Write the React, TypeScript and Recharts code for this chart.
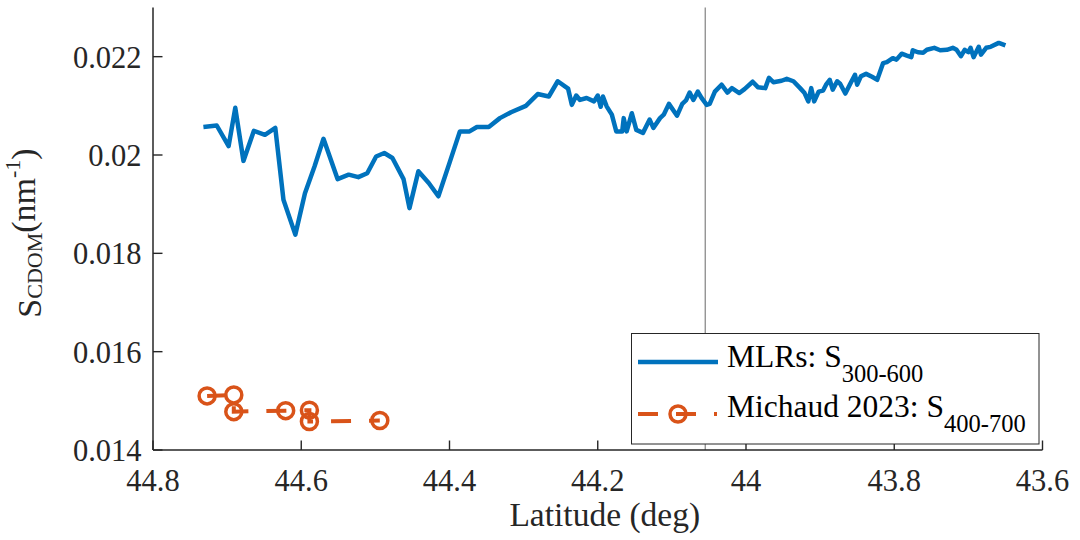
import React from "react";
import { LineChart, Line, XAxis, YAxis, ReferenceLine, Legend } from "recharts";

// ---------- data ----------
const mlrLat = [
  44.732, 44.714, 44.698, 44.689, 44.678, 44.664, 44.649, 44.635, 44.624, 44.608,
  44.595, 44.582, 44.570, 44.551, 44.536, 44.523, 44.511, 44.499, 44.488, 44.477,
  44.462, 44.454, 44.442, 44.428, 44.415, 44.400, 44.386, 44.373, 44.363, 44.347,
  44.332, 44.317, 44.297, 44.281, 44.266, 44.254, 44.240, 44.235, 44.229, 44.224,
  44.215, 44.205, 44.200, 44.196, 44.193, 44.188, 44.181, 44.175, 44.167, 44.165,
  44.161, 44.154, 44.148, 44.139, 44.130, 44.125, 44.116, 44.111, 44.104, 44.093,
  44.086, 44.081, 44.076, 44.071, 44.065, 44.060, 44.053, 44.049, 44.042, 44.033,
  44.025, 44.019, 44.009, 44.002, 43.991, 43.984, 43.974, 43.969, 43.963, 43.952,
  43.945, 43.936, 43.927, 43.921, 43.916, 43.912, 43.908, 43.902, 43.896, 43.892,
  43.887, 43.883, 43.877, 43.873, 43.866, 43.859, 43.853, 43.850, 43.845, 43.838,
  43.830, 43.823, 43.815, 43.810, 43.802, 43.797, 43.790, 43.783, 43.777, 43.775,
  43.768, 43.761, 43.756, 43.746, 43.738, 43.729, 43.721, 43.716, 43.710, 43.705,
  43.700, 43.697, 43.693, 43.686, 43.683, 43.676, 43.670, 43.659, 43.650,
];
const mlrS = [
  0.02057, 0.02060, 0.02018, 0.02096, 0.01988, 0.02049, 0.02041, 0.02055, 0.01909, 0.01838,
  0.01922, 0.01977, 0.02033, 0.01951, 0.01960, 0.01955, 0.01963, 0.01997, 0.02004, 0.01994,
  0.01951, 0.01892, 0.01967, 0.01943, 0.01916, 0.01984, 0.02048, 0.02048, 0.02057, 0.02057,
  0.02075, 0.02087, 0.02100, 0.02124, 0.02119, 0.02150, 0.02135, 0.02102, 0.02121, 0.02112,
  0.02116, 0.02109, 0.02121, 0.02098, 0.02119, 0.02099, 0.02082, 0.02048, 0.02048, 0.02075,
  0.02048, 0.02085, 0.02051, 0.02045, 0.02072, 0.02055, 0.02075, 0.02082, 0.02104, 0.02080,
  0.02104, 0.02111, 0.02127, 0.02112, 0.02129, 0.02116, 0.02102, 0.02104, 0.02129, 0.02143,
  0.02127, 0.02136, 0.02126, 0.02134, 0.02149, 0.02138, 0.02136, 0.02157, 0.02148, 0.02151,
  0.02155, 0.02150, 0.02136, 0.02126, 0.02109, 0.02136, 0.02109, 0.02129, 0.02131, 0.02143,
  0.02153, 0.02133, 0.02150, 0.02145, 0.02125, 0.02146, 0.02163, 0.02143, 0.02160, 0.02165,
  0.02159, 0.02153, 0.02187, 0.02189, 0.02197, 0.02194, 0.02206, 0.02202, 0.02199, 0.02213,
  0.02209, 0.02208, 0.02214, 0.02218, 0.02213, 0.02214, 0.02218, 0.02214, 0.02201, 0.02214,
  0.02209, 0.02218, 0.02199, 0.02220, 0.02204, 0.02218, 0.02220, 0.02228, 0.02223,
];
const michaudLat = [44.727, 44.691, 44.691, 44.621, 44.589, 44.589, 44.494];
const michaudS = [0.01510, 0.01512, 0.01478, 0.01480, 0.01481, 0.01458, 0.01460];

const xTicks = [44.8, 44.6, 44.4, 44.2, 44.0, 43.8, 43.6];
const yTicks = [0.014, 0.016, 0.018, 0.02, 0.022];
const xDomain = [43.6, 44.8];
const yDomain = [0.014, 0.023];
const markerLat = 44.055;

const seriesNames = ["MLRs: S", "Michaud 2023: S"];
const seriesSubs = ["300-600", "400-700"];

const mlrData = mlrLat.map((lat, i) => ({ lat, v: mlrS[i] }));
const michaudData = michaudLat.map((lat, i) => ({ lat, v: michaudS[i] }));

// ---------- style ----------
const FONT = "Liberation Serif, Times New Roman, serif";
const AX = "#262626";
const BLUE = "#0072BD";
const ORANGE = "#D95319";
const TICK_LEN = 9.5;
const TICK_FS = 30.5;

const fmtX = (v: number) => String(Number(v.toFixed(1)));
const fmtY = (v: number) => String(Number(v.toFixed(3)));

const BottomTick = (p: any) => (
  <g>
    <line x1={p.x} y1={p.y} x2={p.x} y2={p.y - TICK_LEN} stroke={AX} strokeWidth={1.4} />
    <text x={p.x} y={p.y + 41} textAnchor="middle" fontSize={TICK_FS} fontFamily={FONT} fill={AX}>
      {fmtX(p.payload.value)}
    </text>
  </g>
);
const TopTick = (p: any) => (
  <line x1={p.x} y1={p.y} x2={p.x} y2={p.y + TICK_LEN} stroke={AX} strokeWidth={1.4} />
);
const LeftTick = (p: any) => (
  <g>
    <line x1={p.x} y1={p.y} x2={p.x + TICK_LEN} y2={p.y} stroke={AX} strokeWidth={1.4} />
    <text x={p.x - 11.5} y={p.y + 11} textAnchor="end" fontSize={TICK_FS} fontFamily={FONT} fill={AX}>
      {fmtY(p.payload.value)}
    </text>
  </g>
);
const RightTick = (p: any) => (
  <line x1={p.x} y1={p.y} x2={p.x - TICK_LEN} y2={p.y} stroke={AX} strokeWidth={1.4} />
);

const XLabel = (p: any) => {
  const vb = p.viewBox || { x: 153, width: 889.5, y: 450 };
  return (
    <text x={vb.x + vb.width / 2 + 7} y={526} textAnchor="middle" fontSize={33.5} fontFamily={FONT} fill={AX}>
      Latitude (deg)
    </text>
  );
};

const YLabel = () => {
  const x = 41;
  const y = 233;
  return (
    <text
      x={x}
      y={y}
      transform={`rotate(-90, ${x}, ${y})`}
      textAnchor="middle"
      fontSize={34}
      fontFamily={FONT}
      fill={AX}
    >
      S
      <tspan fontSize={22} dy={1}>CDOM</tspan>
      <tspan fontSize={34} dy={-7}>(nm</tspan>
      <tspan fontSize={22} dy={-15}>-1</tspan>
      <tspan fontSize={34} dy={15}>)</tspan>
    </text>
  );
};

const OrangeDot = (p: any) => (
  <circle key={`d-${p.index}`} cx={p.cx} cy={p.cy} r={8} fill="none" stroke={ORANGE} strokeWidth={3.5} />
);

const LegendBox = () => (
  <svg width={409} height={112} style={{ display: "block" }}>
    <rect x={0.5} y={0.5} width={407.5} height={110.5} fill="#ffffff" stroke={AX} strokeWidth={1} />
    <line x1={7} x2={87} y1={29} y2={29} stroke={BLUE} strokeWidth={4.5} />
    <text x={96} y={33.7} fontSize={31.5} fontFamily={FONT} fill="#000">
      {seriesNames[0]}
      <tspan fontSize={24.5} dy={15}>{seriesSubs[0]}</tspan>
    </text>
    <line x1={7} x2={86} y1={81} y2={81} stroke={ORANGE} strokeWidth={4} strokeDasharray="20 18" />
    <circle cx={47} cy={81} r={8} fill="none" stroke={ORANGE} strokeWidth={3.5} />
    <text x={96} y={84} fontSize={31.5} fontFamily={FONT} fill="#000">
      {seriesNames[1]}
      <tspan fontSize={24.5} dy={14.7}>{seriesSubs[1]}</tspan>
    </text>
  </svg>
);

export default function App() {
  return (
    <div style={{ position: "absolute", left: 0, top: 0, width: 1080, height: 540, background: "#fff" }}>
      <LineChart
        width={1080}
        height={540}
        margin={{ top: 7.5, right: 37.5, left: 0, bottom: 0 }}
      >
        <XAxis
          dataKey="lat"
          type="number"
          domain={xDomain}
          ticks={xTicks}
          reversed
          allowDataOverflow
          height={90}
          tickSize={0}
          tickMargin={0}
          tickLine={false}
          axisLine={{ stroke: AX, strokeWidth: 1.5 }}
          tick={<BottomTick />}
          interval={0}
          label={<XLabel />}
        />
        <XAxis
          xAxisId="top"
          dataKey="lat"
          type="number"
          orientation="top"
          domain={xDomain}
          ticks={xTicks}
          reversed
          allowDataOverflow
          height={0}
          tickSize={0}
          tickMargin={0}
          tickLine={false}
          axisLine={{ stroke: AX, strokeWidth: 1.5 }}
          tick={<TopTick />}
          interval={0}
        />
        <YAxis
          type="number"
          domain={yDomain}
          ticks={yTicks}
          allowDataOverflow
          width={153}
          tickSize={0}
          tickMargin={0}
          tickLine={false}
          axisLine={{ stroke: AX, strokeWidth: 1.5 }}
          tick={<LeftTick />}
          interval={0}
          label={<YLabel />}
        />
        <YAxis
          yAxisId="right"
          orientation="right"
          type="number"
          domain={yDomain}
          ticks={yTicks}
          allowDataOverflow
          width={0}
          tickSize={0}
          tickMargin={0}
          tickLine={false}
          axisLine={{ stroke: AX, strokeWidth: 1.5 }}
          tick={<RightTick />}
          interval={0}
        />
        <ReferenceLine x={markerLat} stroke="#808080" strokeWidth={1.2} />
        <Line
          data={mlrData}
          dataKey="v"
          type="linear"
          stroke={BLUE}
          strokeWidth={4.5}
          strokeLinejoin="round"
          dot={false}
          activeDot={false}
          isAnimationActive={false}
        />
        <Line
          data={michaudData}
          dataKey="v"
          type="linear"
          stroke={ORANGE}
          strokeWidth={4}
          strokeDasharray="20 18"
          dot={OrangeDot}
          activeDot={false}
          isAnimationActive={false}
        />
        <Legend
          layout="horizontal"
          verticalAlign="middle"
          align="center"
          content={<LegendBox />}
          wrapperStyle={{ position: "absolute", left: 631, top: 333, width: 409, height: 112 }}
        />
      </LineChart>
    </div>
  );
}
